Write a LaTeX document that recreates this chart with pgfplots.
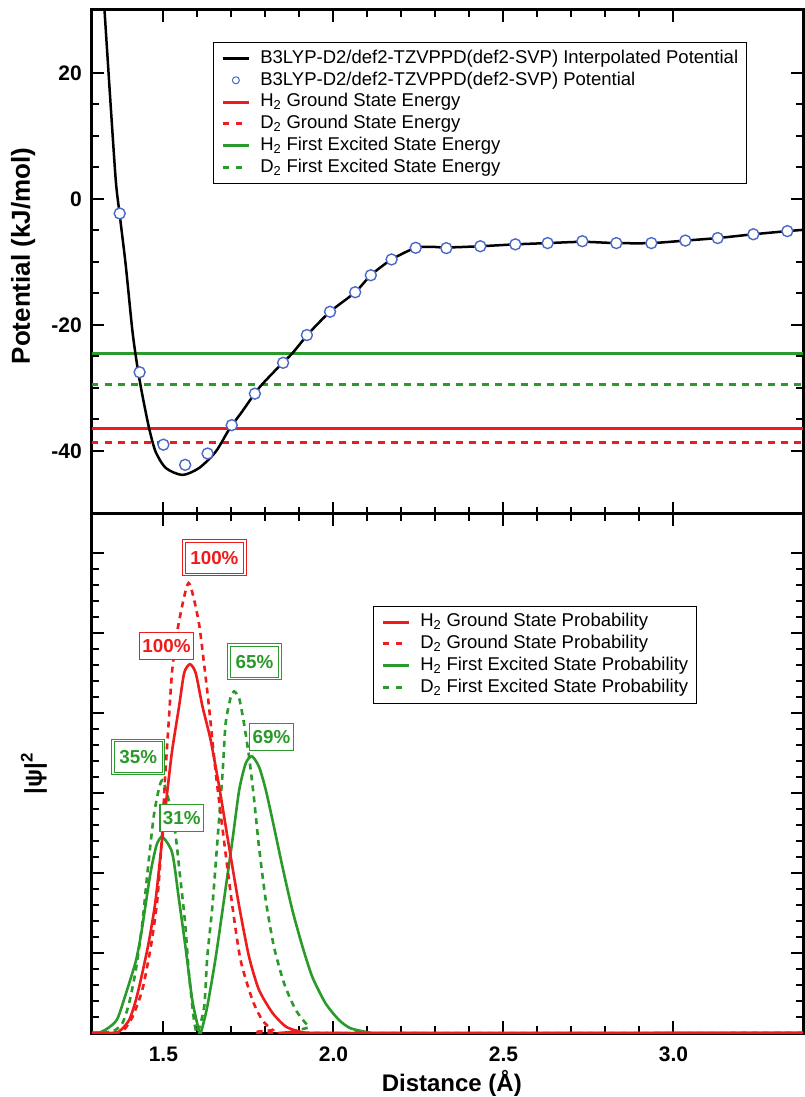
\documentclass[border=0pt]{standalone}
\usepackage{fontspec}
\setmainfont{Liberation Sans}
\usepackage{pgfplots}
\pgfplotsset{compat=1.18}

\definecolor{pred}{HTML}{EE1C1C}
\definecolor{pgreen}{HTML}{2A9A2A}
\definecolor{pblue}{HTML}{4A68C8}

\pgfplotsset{
  panel/.style={
    scale only axis, width=711pt,
    xmin=1.29, xmax=3.381,
    xtick={1.5,2.0,2.5,3.0}, minor x tick num=4,
    tick align=inside, tick pos=both,
    axis line style={line width=3pt},
    tick style={black, line width=2pt},
    major tick length=12pt, minor tick length=7pt,
    tick label style={font=\bfseries\fontsize{21}{24}\selectfont},
    xticklabel style={inner sep=0pt, anchor=north, yshift=-14pt},
    yticklabel style={inner sep=0pt, anchor=east, xshift=-10pt},
    label style={font=\bfseries\fontsize{24}{28}\selectfont},
    legend cell align=left,
    legend image code/.code={\draw[##1] (0pt,0pt) -- (26pt,0pt);},
    legend style={draw=black, line width=1pt,
      font=\fontsize{18.5}{22}\selectfont,
      inner xsep=8pt, inner ysep=7pt, row sep=4.3pt, column sep=10pt,
      nodes={inner sep=0pt, text height=13.5pt, text depth=4pt}},
  },
  lvl/.style={line width=3pt},
  dsh/.style={line width=3pt, dash pattern=on 6.5pt off 6.5pt},
  prob/.style={line width=2.6pt, smooth, tension=0.4},
  probd/.style={line width=2.6pt, smooth, tension=0.4, dash pattern=on 6pt off 5pt},
}
\tikzset{
  pctA/.style={font=\bfseries\fontsize{18.8}{20}\selectfont, draw=#1, text=#1, fill=white, line width=1.2pt, inner xsep=3pt, inner ysep=7pt},
  pctB/.style={font=\bfseries\fontsize{18.8}{20}\selectfont, draw=#1, text=#1, fill=white, line width=1pt, double=white, double distance=1.5pt, inner xsep=6.5pt, inner ysep=10pt},
}

\begin{document}
\begin{tikzpicture}
\useasboundingbox (-92pt,-64pt) rectangle (712pt,1033pt);

% lower panel: probabilities
\begin{axis}[panel, at={(0pt,0pt)}, anchor=south west, height=519pt,
  ymin=0, ymax=6.4875, ytick={0,1,2,3,4,5,6}, minor y tick num=4,
  yticklabel=\empty,
  xticklabels={1.5,2.0,2.5,3.0},
  xlabel={Distance (Å)},
  xlabel style={at={(axis description cs:0.506,-0.0963)}, anchor=center},
  ylabel={|ψ|\textsuperscript{2}},
  ylabel style={at={(axis description cs:-0.0816,0.5)}, anchor=center},
  legend style={at={(axis description cs:0.395,0.823)}, anchor=north west},
]
% H2 first excited
\addplot[pgreen, prob, forget plot] coordinates {
  (1.29,0)(1.315,0.01)(1.340,0.07)(1.365,0.18)(1.394,0.55)(1.419,0.9)
  (1.435,1.25)(1.462,2.0)(1.480,2.35)(1.497,2.45)(1.526,2.25)(1.546,1.66)
  (1.566,1.04)(1.585,0.41)(1.605,0.02)(1.61,0)(1.629,0.33)(1.654,0.95)
  (1.678,1.66)(1.703,2.41)(1.723,3.04)(1.742,3.37)(1.760,3.46)(1.781,3.33)
  (1.801,3.04)(1.825,2.58)(1.850,2.08)(1.879,1.54)(1.909,1.08)(1.938,0.70)
  (1.977,0.37)(2.017,0.16)(2.05,0.06)(2.10,0.01)(2.13,0)(3.381,0)};
% D2 first excited
\addplot[pgreen, probd, forget plot] coordinates {
  (1.29,0)(1.35,0.02)(1.379,0.12)(1.399,0.37)(1.419,0.79)(1.438,1.37)
  (1.453,2.0)(1.473,2.75)(1.497,3.16)(1.531,2.62)(1.548,2.0)(1.564,1.37)
  (1.575,0.75)(1.590,0.16)(1.600,0)(1.620,0.33)(1.629,0.95)(1.644,1.58)
  (1.659,2.41)(1.674,3.25)(1.683,3.87)(1.698,4.2)(1.708,4.27)(1.723,4.18)
  (1.737,3.87)(1.752,3.45)(1.767,2.91)(1.781,2.33)(1.801,1.66)(1.825,1.08)
  (1.855,0.62)(1.889,0.29)(1.928,0.08)(1.968,0)(3.381,0)};
% H2 ground
\addplot[pred, prob, forget plot] coordinates {
  (1.29,0)(1.34,0)(1.370,0.02)(1.399,0.16)(1.419,0.41)(1.438,0.75)
  (1.458,1.16)(1.477,1.66)(1.497,2.45)(1.512,3.04)(1.526,3.54)(1.546,4.08)
  (1.561,4.50)(1.578,4.61)(1.595,4.50)(1.615,4.08)(1.639,3.66)(1.664,3.08)
  (1.693,2.33)(1.723,1.58)(1.752,0.95)(1.781,0.54)(1.821,0.25)(1.860,0.08)
  (1.899,0.02)(1.94,0)(3.381,0)};
% D2 ground
\addplot[pred, probd, forget plot] coordinates {
  (1.29,0)(1.36,0)(1.384,0.04)(1.409,0.20)(1.438,0.54)(1.463,1.08)
  (1.482,1.66)(1.495,2.4)(1.505,3.2)(1.515,3.85)(1.526,4.54)(1.544,5.1)
  (1.574,5.625)(1.603,5.16)(1.620,4.6)(1.634,4.08)(1.654,3.25)(1.678,2.41)
  (1.703,1.58)(1.727,0.91)(1.762,0.41)(1.791,0.16)(1.821,0.04)(1.85,0)(3.381,0)};

\addlegendimage{pred, lvl}
\addlegendentry{H\textsubscript{2} Ground State Probability}
\addlegendimage{pred, dsh}
\addlegendentry{D\textsubscript{2} Ground State Probability}
\addlegendimage{pgreen, lvl}
\addlegendentry{H\textsubscript{2} First Excited State Probability}
\addlegendimage{pgreen, dsh}
\addlegendentry{D\textsubscript{2} First Excited State Probability}

\node[pctB=pred] at (axis cs:1.650,5.94) {100\%};
\node[pctA=pred] at (axis cs:1.509,4.84) {100\%};
\node[pctB=pgreen] at (axis cs:1.768,4.64) {65\%};
\node[pctA=pgreen] at (axis cs:1.818,3.70) {69\%};
\node[pctB=pgreen] at (axis cs:1.426,3.45) {35\%};
\node[pctA=pgreen] at (axis cs:1.554,2.69) {31\%};
\end{axis}

% upper panel: potential
\begin{axis}[panel, at={(0pt,519pt)}, anchor=south west, height=504pt,
  ymin=-50, ymax=30, ytick={-40,-20,0,20}, minor y tick num=3,
  yticklabels={-40,-20,0,20},
  xticklabel=\empty,
  ylabel={Potential (kJ/mol)},
  ylabel style={at={(axis description cs:-0.0970,0.512)}, anchor=center,
    font=\bfseries\fontsize{26}{30}\selectfont},
  legend style={at={(axis description cs:0.170,0.936)}, anchor=north west},
]
\addplot[pgreen, lvl, forget plot] coordinates {(1.29,-24.5)(3.381,-24.5)};
\addplot[pgreen, dsh, forget plot] coordinates {(1.29,-29.4)(3.381,-29.4)};
\addplot[pred, lvl, forget plot] coordinates {(1.29,-36.4)(3.381,-36.4)};
\addplot[pred, dsh, forget plot] coordinates {(1.29,-38.7)(3.381,-38.7)};

\addplot[black, line width=2.5pt, smooth, tension=0.45, forget plot] coordinates {
  (1.322,34)(1.344,15.6)(1.360,2.9)(1.371,-2.3)(1.389,-10.4)(1.409,-21.0)
  (1.424,-26.8)(1.438,-31.1)(1.458,-36.4)(1.477,-40.1)(1.507,-42.7)
  (1.556,-43.8)(1.605,-42.7)(1.654,-40.1)(1.693,-36.6)(1.732,-33.7)
  (1.781,-30.0)(1.840,-26.6)(1.879,-24.5)(1.928,-21.3)(1.990,-17.9)
  (2.064,-14.8)(2.110,-12.1)(2.171,-9.6)(2.242,-7.75)(2.291,-7.6)
  (2.332,-7.7)(2.432,-7.5)(2.535,-7.2)(2.630,-7.0)(2.732,-6.8)(2.832,-7.0)
  (2.935,-7.0)(3.035,-6.6)(3.130,-6.2)(3.235,-5.6)(3.335,-5.1)(3.381,-4.9)};

\addplot[only marks, mark=*, mark size=5.5pt,
  mark options={draw=pblue, fill=white, line width=1.4pt}, forget plot] coordinates {
  (1.3715,-2.3)(1.430,-27.5)(1.500,-39.0)(1.564,-42.2)(1.630,-40.4)
  (1.701,-35.9)(1.769,-30.9)(1.852,-26.0)(1.922,-21.6)(1.990,-17.9)
  (2.064,-14.8)(2.110,-12.1)(2.171,-9.6)(2.242,-7.75)(2.332,-7.8)
  (2.432,-7.5)(2.535,-7.2)(2.630,-7.0)(2.732,-6.7)(2.832,-7.0)
  (2.935,-7.0)(3.035,-6.6)(3.130,-6.2)(3.235,-5.6)(3.335,-5.1)};

\addlegendimage{black, line width=2.5pt}
\addlegendentry{B3LYP-D2/def2-TZVPPD(def2-SVP) Interpolated Potential}
\addlegendimage{legend image code/.code={\draw[pblue, line width=1pt, fill=white] (13pt,0pt) circle (3.5pt);}}
\addlegendentry{B3LYP-D2/def2-TZVPPD(def2-SVP) Potential}
\addlegendimage{pred, lvl}
\addlegendentry{H\textsubscript{2} Ground State Energy}
\addlegendimage{pred, dsh}
\addlegendentry{D\textsubscript{2} Ground State Energy}
\addlegendimage{pgreen, lvl}
\addlegendentry{H\textsubscript{2} First Excited State Energy}
\addlegendimage{pgreen, dsh}
\addlegendentry{D\textsubscript{2} First Excited State Energy}
\end{axis}
\end{tikzpicture}
\end{document}
